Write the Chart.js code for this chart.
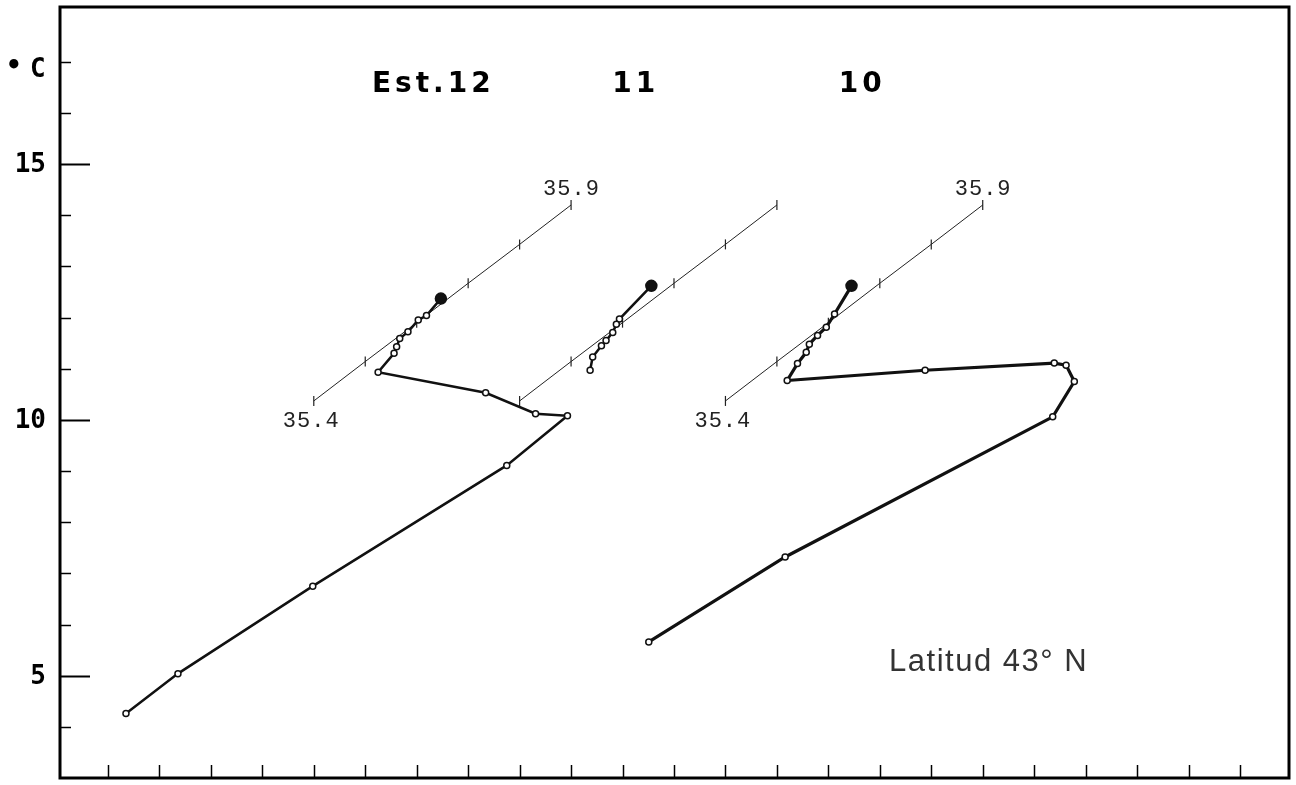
<!DOCTYPE html>
<html>
<head>
<meta charset="utf-8">
<script src="https://cdn.jsdelivr.net/npm/chart.js@4.4.1/dist/chart.umd.min.js"></script>
<style>
  html, body { margin: 0; padding: 0; background: #fff; }
  #wrap { width: 1296px; height: 785px; position: relative; }
</style>
</head>
<body>
<div id="wrap"><canvas id="tsChart"></canvas></div>
<script>
// x is in plot units (one unit = one bottom tick), y is temperature in °C
const xTicks = [0, 1, 2, 3, 4, 5, 6, 7, 8, 9, 10, 11, 12, 13, 14, 15, 16, 17, 18, 19, 20, 21, 22];
const yTicks = [4, 5, 6, 7, 8, 9, 10, 11, 12, 13, 14, 15, 16, 17];
const yLabels = [5, 10, 15];

const stationNames = ['Est.12', '11', '10'];

// T-S curves, surface point first
const est12X = [6.47, 6.19, 6.03, 5.83, 5.67, 5.61, 5.56, 5.25, 7.34, 8.31, 8.93, 7.75, 3.98, 1.36, 0.35];
const est12T = [12.37, 12.04, 11.95, 11.72, 11.59, 11.43, 11.30, 10.93, 10.53, 10.12, 10.08, 9.11, 6.75, 5.04, 4.26];

const est11X = [10.56, 9.94, 9.88, 9.81, 9.68, 9.59, 9.42, 9.37];
const est11T = [12.62, 11.97, 11.87, 11.71, 11.55, 11.45, 11.23, 10.97];

const est10X = [14.45, 14.12, 13.96, 13.79, 13.63, 13.57, 13.40, 13.20, 15.88, 18.39, 18.62, 18.78, 18.36, 13.16, 10.51];
const est10T = [12.62, 12.07, 11.81, 11.65, 11.48, 11.32, 11.10, 10.77, 10.97, 11.11, 11.07, 10.75, 10.06, 7.32, 5.66];

// oblique salinity axes, 35.4 to 35.9 in steps of 0.1
const salinity = [35.4, 35.5, 35.6, 35.7, 35.8, 35.9];
const axis12X = [4, 5, 6, 7, 8, 9];
const axis11X = [8, 9, 10, 11, 12, 13];
const axis10X = [12, 13, 14, 15, 16, 17];
const axisT = [10.37, 11.14, 11.90, 12.67, 13.43, 14.20];

const pts = (xs, ys) => xs.map((x, i) => ({ x: x, y: ys[i] }));

function curve(label, xs, ys, width) {
  return {
    label: label,
    data: pts(xs, ys),
    showLine: true,
    borderColor: '#111',
    borderWidth: width,
    pointStyle: 'circle',
    pointRadius: ctx => ctx.dataIndex === 0 ? 5.5 : 3,
    pointBackgroundColor: ctx => ctx.dataIndex === 0 ? '#111' : '#fff',
    pointBorderColor: '#111',
    pointBorderWidth: 1.5,
    order: 1
  };
}

function salAxis(label, xs) {
  return {
    label: label,
    data: pts(xs, axisT),
    showLine: true,
    borderColor: '#222',
    borderWidth: 1,
    pointStyle: 'line',
    rotation: 90,
    pointRadius: 5,
    pointBorderColor: '#222',
    pointBorderWidth: 1.2,
    order: 2
  };
}

const decorations = {
  id: 'decorations',
  afterDraw(chart) {
    const { ctx, chartArea } = chart;
    const xs = chart.scales.x, ys = chart.scales.y;
    ctx.save();
    ctx.strokeStyle = '#000';
    ctx.fillStyle = '#000';

    // bottom ticks
    ctx.lineWidth = 1.5;
    xTicks.forEach(v => {
      const px = Math.round(xs.getPixelForValue(v)) + 0.5;
      ctx.beginPath();
      ctx.moveTo(px, chartArea.bottom);
      ctx.lineTo(px, chartArea.bottom - 13);
      ctx.stroke();
    });

    // left ticks and labels
    ctx.font = 'bold 26px "DejaVu Sans Mono"';
    ctx.textAlign = 'right';
    ctx.textBaseline = 'middle';
    yTicks.forEach(v => {
      const py = Math.round(ys.getPixelForValue(v)) + 0.5;
      const major = yLabels.includes(v);
      ctx.lineWidth = major ? 2 : 1.5;
      ctx.beginPath();
      ctx.moveTo(chartArea.left, py);
      ctx.lineTo(chartArea.left + (major ? 30 : 11), py);
      ctx.stroke();
      if (major) ctx.fillText(String(v), chartArea.left - 14, py + 1);
    });
    ctx.textAlign = 'left';
    ctx.fillText('•', 6, ys.getPixelForValue(17) + 6);
    ctx.fillText('C', 30, ys.getPixelForValue(17) + 9);

    // frame
    ctx.lineWidth = 3;
    ctx.strokeRect(chartArea.left, chartArea.top, chartArea.right - chartArea.left, chartArea.bottom - chartArea.top);

    // station names
    ctx.font = 'bold 28px "DejaVu Sans"';
    ctx.textBaseline = 'middle';
    if ('letterSpacing' in ctx) ctx.letterSpacing = '4px';
    const nameX = [5.13, 9.8, 14.2];
    stationNames.forEach((n, i) => {
      ctx.fillText(n, xs.getPixelForValue(nameX[i]), ys.getPixelForValue(16.55));
    });

    // salinity end labels on stations 12 and 10
    ctx.font = '22px "Liberation Mono"';
    ctx.fillStyle = '#222';
    if ('letterSpacing' in ctx) ctx.letterSpacing = '1px';
    [axis12X, axis10X].forEach(ax => {
      const x0 = xs.getPixelForValue(ax[0]), y0 = ys.getPixelForValue(axisT[0]);
      const x1 = xs.getPixelForValue(ax[ax.length - 1]), y1 = ys.getPixelForValue(axisT[axisT.length - 1]);
      ctx.fillText(salinity[0].toFixed(1), x0 - 31, y0 + 20);
      ctx.fillText(salinity[salinity.length - 1].toFixed(1), x1 - 28, y1 - 16);
    });

    // latitude note
    ctx.font = '31px "Liberation Sans"';
    ctx.fillStyle = '#333';
    ctx.textBaseline = 'alphabetic';
    if ('letterSpacing' in ctx) ctx.letterSpacing = '1.5px';
    ctx.fillText('Latitud 43° N', xs.getPixelForValue(15.18), ys.getPixelForValue(5.1));
    ctx.restore();
  }
};

new Chart(document.getElementById('tsChart').getContext('2d'), {
  type: 'scatter',
  data: {
    datasets: [
      salAxis('S Est.12', axis12X),
      salAxis('S Est.11', axis11X),
      salAxis('S Est.10', axis10X),
      curve('Est.12', est12X, est12T, 2.5),
      curve('Est.11', est11X, est11T, 2.5),
      curve('Est.10', est10X, est10T, 3.2)
    ]
  },
  options: {
    responsive: true,
    maintainAspectRatio: false,
    animation: false,
    layout: { padding: { left: 60, top: 5, right: 6, bottom: 5 } },
    plugins: { legend: { display: false }, tooltip: { enabled: false } },
    scales: {
      x: { type: 'linear', min: -0.932, max: 22.952, display: false },
      y: { type: 'linear', min: 3, max: 18.07, display: false }
    }
  },
  plugins: [decorations]
});
</script>
</body>
</html>
